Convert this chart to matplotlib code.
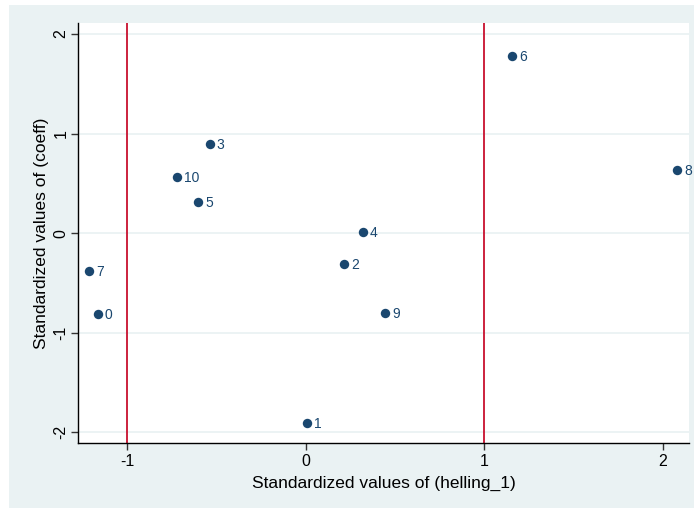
import matplotlib
matplotlib.use("Agg")
import matplotlib.pyplot as plt
from matplotlib.patches import Rectangle

labels = ["0", "1", "2", "3", "4", "5", "6", "7", "8", "9", "10"]
x_vals = [-1.162, 0.006, 0.214, -0.537, 0.321, -0.601, 1.156, -1.213, 2.080, 0.444, -0.718]
y_vals = [-0.810, -1.908, -0.311, 0.894, 0.013, 0.314, 1.777, -0.382, 0.636, -0.800, 0.559]
vlines = [-1, 1]
xticks = [-1, 0, 1, 2]
yticks = [-2, -1, 0, 1, 2]

plt.rcParams['font.family'] = ['Liberation Sans', 'DejaVu Sans']

W, H = 694, 508
fig = plt.figure(figsize=(W / 100, H / 100), dpi=100, facecolor='white')
bg = '#EAF2F3'
fig.patches.append(Rectangle((9 / W, 0), 1 - 9 / W, 1 - 5 / H, transform=fig.transFigure,
                             facecolor=bg, edgecolor='none', zorder=-10))

ax = fig.add_axes([78 / W, 1 - 443 / H, (689 - 78) / W, (443 - 23) / H])
ax.set_zorder(5)
ax.set_facecolor('white')
ax.set_xlim(-1.274, 2.145)
ax.set_ylim(-2.107, 2.11)

navy = '#1A476F'
for yt in yticks:
    ax.axhline(yt, color=bg, lw=1.3, zorder=1)
for xv in vlines:
    ax.axvline(xv, color='#C8102E', lw=1.3, zorder=2)

ax.scatter(x_vals, y_vals, s=46, color=navy, zorder=3, linewidths=0)
for lab, xx, yy in zip(labels, x_vals, y_vals):
    ax.annotate(lab, (xx, yy), xytext=(5, -0.6), textcoords='offset points',
                va='center', ha='left', fontsize=10, color=navy, zorder=4)

ax.set_xticks(xticks)
ax.set_yticks(yticks)
ax.set_xticklabels([str(t) for t in xticks], fontsize=11.5)
ax.set_yticklabels([str(t) for t in yticks], fontsize=11.5, rotation=90, va='center')
ax.tick_params(axis='both', length=5, width=1, color='#333333')
ax.tick_params(axis='x', pad=3)
ax.tick_params(axis='y', pad=2)

for s in ['top', 'right']:
    ax.spines[s].set_visible(False)
for s in ['left', 'bottom']:
    ax.spines[s].set_color('black')
    ax.spines[s].set_linewidth(1)

ax.set_xlabel('Standardized values of (helling_1)', fontsize=12.5, labelpad=4.5)
ax.set_ylabel('Standardized values of (coeff)', fontsize=12.5, labelpad=3)

fig.savefig('out.png', dpi=100, facecolor='white')
